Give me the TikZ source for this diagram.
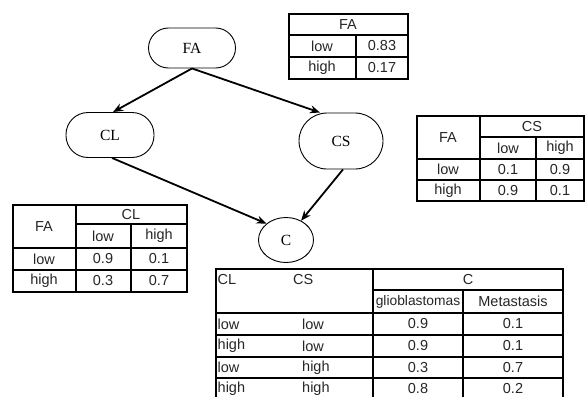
\documentclass[tikz,border=0pt]{standalone}
\usepackage{fontspec}
\setmainfont{Liberation Sans}
\newfontfamily\nodefont{Liberation Serif}
\usetikzlibrary{shapes.geometric,arrows.meta}
\tikzset{
  bn/.style={draw, line width=0.9pt, rounded corners=#1, inner sep=0pt, font=\nodefont\fontsize{15.5}{16}\selectfont},
  arr/.style={line width=1.8pt, -{Stealth[length=10pt,width=8pt]}},
  tl/.style={line width=1.2pt},
  tx/.style={inner sep=0pt, font=\fontsize{14.5}{15}\selectfont, text=black!85},
  txl/.style={tx, anchor=west},
}
\begin{document}
\begin{tikzpicture}[x=1pt,y=-1pt]
\useasboundingbox (0,0) rectangle (585,396);
\clip (0,0) rectangle (585,396);
% Bayesian network nodes
\node[bn=20pt, minimum width=87pt, minimum height=40pt] (FA) at (192,48) {FA};
\node[bn=22pt, minimum width=88pt, minimum height=45pt] (CL) at (110,135) {CL};
\node[bn=28pt, minimum width=84pt, minimum height=56pt] (CS) at (341,141) {CS};
\node[draw, line width=0.9pt, ellipse, minimum width=55pt, minimum height=45pt, inner sep=0pt, font=\nodefont\fontsize{15.5}{16}\selectfont] (C) at (286,240) {C};
% arrows
\draw[arr] (FA.south) -- ([xshift=3pt]CL.north);
\draw[arr] (FA.south) -- ([xshift=-21pt]CS.north);
\draw[arr] ([xshift=2pt]CL.south) -- (C.140);
\draw[arr] ([xshift=2pt]CS.south) -- (C.52);
% FA table
\draw[tl] (289,14) rectangle (408,79);
\draw[tl] (289,35) -- (408,35) (289,57) -- (408,57) (356,35) -- (356,79);
\node[tx] (faT) at (348,24.5) {FA};
\node[tx] (faL) at (322,46) {low};
\node[tx] (faLv) at (382,46) {0.83};
\node[tx] (faH) at (322,68) {high};
\node[tx] (faHv) at (382,68) {0.17};
% CS table
\draw[tl] (417,116) rectangle (584,201);
\draw[tl] (480,137) -- (584,137) (417,159) -- (584,159) (417,180) -- (584,180)
  (480,116) -- (480,201) (536,137) -- (536,201);
\node[tx] (csFA) at (448,137.5) {FA};
\node[tx] (csT) at (532,126.5) {CS};
\node[tx] (csl) at (508,148) {low};
\node[tx] (csh) at (560,148) {high};
\node[tx] (csr1) at (448,169.5) {low};
\node[tx] (csr1a) at (508,169.5) {0.1};
\node[tx] (csr1b) at (560,169.5) {0.9};
\node[tx] (csr2) at (448,190.5) {high};
\node[tx] (csr2a) at (508,190.5) {0.9};
\node[tx] (csr2b) at (560,190.5) {0.1};
% CL table
\draw[tl] (13,205) rectangle (187,292);
\draw[tl] (76,224) -- (187,224) (13,248) -- (187,248) (13,270) -- (187,270)
  (76,205) -- (76,292) (131,224) -- (131,292);
\node[tx] (clFA) at (44,226.5) {FA};
\node[tx] (clT) at (131,214.5) {CL};
\node[tx] (cll) at (103,236) {low};
\node[tx] (clh) at (159,236) {high};
\node[tx] (clr1) at (44,259) {low};
\node[tx] (clr1a) at (103,259) {0.9};
\node[tx] (clr1b) at (159,259) {0.1};
\node[tx] (clr2) at (44,281) {high};
\node[tx] (clr2a) at (103,281) {0.3};
\node[tx] (clr2b) at (159,281) {0.7};
% C table
\draw[tl] (216,400) -- (216,269) -- (563,269) -- (563,400);
\draw[tl] (373,290) -- (563,290) (216,313) -- (563,313) (216,335) -- (563,335)
  (216,357) -- (563,357) (216,378) -- (563,378) (216,400) -- (563,400)
  (373,269) -- (373,400) (463,290) -- (463,400);
\node[txl] (cCL) at (217.5,280) {CL};
\node[txl] (cCS) at (293,280) {CS};
\node[tx] (cT) at (468,279.5) {C};
\node[tx, font=\fontsize{13.8}{15}\selectfont] (cg) at (418,301.5) {glioblastomas};
\node[tx] (cm) at (513,301.5) {Metastasis};
\node[txl] (r1a) at (217.5,324) {low};
\node[txl] (r1b) at (302,324) {low};
\node[tx] (r1c) at (418,324) {0.9};
\node[tx] (r1d) at (513,324) {0.1};
\node[txl] (r2a) at (217.5,346) {high};
\node[txl] (r2b) at (302,346) {low};
\node[tx] (r2c) at (418,346) {0.9};
\node[tx] (r2d) at (513,346) {0.1};
\node[txl] (r3a) at (217.5,367.5) {low};
\node[txl] (r3b) at (302,367.5) {high};
\node[tx] (r3c) at (418,367.5) {0.3};
\node[tx] (r3d) at (513,367.5) {0.7};
\node[txl] (r4a) at (217.5,389) {high};
\node[txl] (r4b) at (302,389) {high};
\node[tx] (r4c) at (418,389) {0.8};
\node[tx] (r4d) at (513,389) {0.2};
\end{tikzpicture}
\end{document}
